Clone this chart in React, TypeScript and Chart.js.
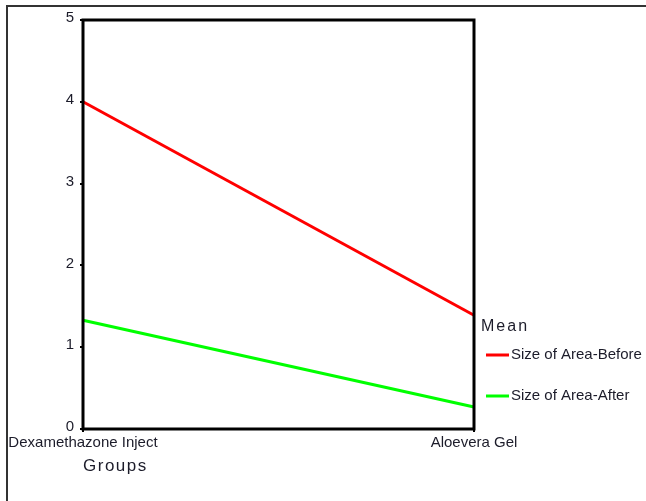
import React, { useEffect, useRef } from "react";
import { Chart, registerables } from "chart.js";

Chart.register(...registerables);

const categories = ["Dexamethazone Inject", "Aloevera Gel"];
const sizeBefore = [4.0, 1.39];
const sizeAfter = [1.33, 0.27];
const seriesLabels = ["Size of Area-Before", "Size of Area-After"];
const seriesColors = ["#ff0000", "#00ff00"];
const legendTitle = "Mean";
const xTitle = "Groups";
const yMin = 0;
const yMax = 5;
const yStep = 1;

const FONT = "'Liberation Sans', Arial, sans-serif";
const TEXT = "#1c1c2a";

const decorPlugin = {
  id: "decor",
  afterDatasetsDraw(chart: any) {
    const { ctx, chartArea } = chart;
    ctx.save();
    // outer frame (left and top visible)
    ctx.strokeStyle = "#333333";
    ctx.lineWidth = 2;
    ctx.beginPath();
    ctx.moveTo(7, 501);
    ctx.lineTo(7, 6);
    ctx.lineTo(646, 6);
    ctx.stroke();
    // plot frame
    ctx.strokeStyle = "#000000";
    ctx.lineWidth = 3;
    ctx.strokeRect(
      chartArea.left,
      chartArea.top,
      chartArea.right - chartArea.left,
      chartArea.bottom - chartArea.top
    );
    // x title
    ctx.fillStyle = TEXT;
    ctx.textAlign = "left";
    ctx.textBaseline = "middle";
    (ctx as any).letterSpacing = "1.5px";
    ctx.font = `17px ${FONT}`;
    ctx.fillText(xTitle, chartArea.left, 466);
    // legend
    ctx.font = `16px ${FONT}`;
    (ctx as any).letterSpacing = "2px";
    ctx.fillText(legendTitle, chartArea.right + 7, 327);
    (ctx as any).letterSpacing = "0px";
    ctx.font = `15px ${FONT}`;
    const rows = [355, 396];
    chart.data.datasets.forEach((ds: any, i: number) => {
      const y = rows[i];
      ctx.strokeStyle = ds.borderColor;
      ctx.lineWidth = 3;
      ctx.beginPath();
      ctx.moveTo(chartArea.right + 12, y);
      ctx.lineTo(chartArea.right + 35, y);
      ctx.stroke();
      ctx.fillStyle = TEXT;
      ctx.fillText(ds.label, chartArea.right + 37, y);
    });
    ctx.restore();
  },
};

export default function App() {
  const ref = useRef<HTMLCanvasElement | null>(null);
  useEffect(() => {
    if (!ref.current) return;
    const chart = new Chart(ref.current, {
      type: "line",
      data: {
        labels: categories,
        datasets: [
          {
            label: seriesLabels[0],
            data: sizeBefore,
            borderColor: seriesColors[0],
            backgroundColor: seriesColors[0],
            borderWidth: 3,
            pointRadius: 0,
            tension: 0,
          },
          {
            label: seriesLabels[1],
            data: sizeAfter,
            borderColor: seriesColors[1],
            backgroundColor: seriesColors[1],
            borderWidth: 3,
            pointRadius: 0,
            tension: 0,
          },
        ],
      },
      options: {
        animation: false,
        responsive: false,
        devicePixelRatio: 1,
        layout: { padding: { left: 0, top: 20, right: 172, bottom: 0 } },
        plugins: {
          legend: { display: false },
          tooltip: { enabled: false },
        },
        scales: {
          x: {
            type: "category",
            offset: false,
            afterFit: (s: any) => {
              s.height = 72;
            },
            grid: {
              display: true,
              drawOnChartArea: false,
              drawTicks: true,
              tickLength: 3,
              color: "#000",
              lineWidth: 2,
            },
            border: { display: false },
            ticks: {
              color: TEXT,
              font: { family: FONT, size: 15 },
              padding: 2,
              maxRotation: 0,
              autoSkip: false,
            },
          },
          y: {
            min: yMin,
            max: yMax,
            afterFit: (s: any) => {
              s.width = 83;
            },
            grid: {
              display: true,
              drawOnChartArea: false,
              drawTicks: true,
              tickLength: 3,
              color: "#000",
              lineWidth: 2,
            },
            border: { display: false },
            ticks: {
              stepSize: yStep,
              color: TEXT,
              font: { family: FONT, size: 15 },
              padding: 6,
              labelOffset: -2,
            },
          },
        },
      },
      plugins: [decorPlugin],
    });
    return () => chart.destroy();
  }, []);
  return (
    <div style={{ position: "fixed", left: 0, top: 0, width: 646, height: 501, background: "#fff" }}>
      <canvas ref={ref} width={646} height={501} style={{ display: "block" }} />
    </div>
  );
}
